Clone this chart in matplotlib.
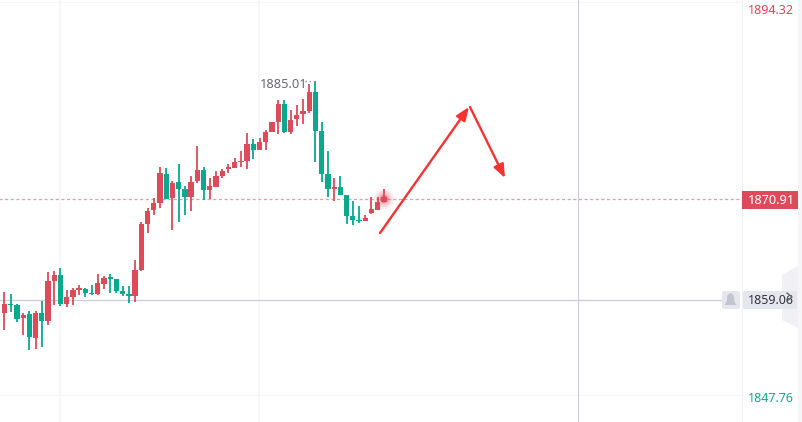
import numpy as np
import matplotlib
matplotlib.use('Agg')
import matplotlib.pyplot as plt
from matplotlib.patches import Polygon, Rectangle, FancyBboxPatch, Circle

plt.rcParams['font.family'] = ['Noto Sans', 'DejaVu Sans']

# candle values
opens = [1857.52, 1858.59, 1858.47, 1856.93, 1857.40, 1854.56, 1857.52, 1856.57, 1861.31, 1862.02,
         1858.59, 1859.42, 1860.25, 1860.36, 1859.89, 1859.77, 1860.96, 1861.79, 1861.55, 1860.13,
         1859.77, 1859.53, 1862.62, 1868.07, 1869.73, 1870.55, 1873.99, 1871.15, 1873.04, 1872.21,
         1871.27, 1873.16, 1874.47, 1872.10, 1872.45, 1873.75, 1874.58, 1874.70, 1875.41, 1875.53,
         1877.55, 1876.84, 1877.78, 1878.97, 1880.15, 1882.29, 1878.97, 1880.51, 1881.10, 1881.46,
         1883.71, 1879.09, 1873.99, 1872.21, 1872.45, 1871.50, 1869.01, 1868.54, 1868.42, 1869.37,
         1869.73, 1870.67]
highs = [1860.01, 1859.77, 1858.59, 1857.52, 1857.76, 1857.76, 1858.94, 1862.38, 1862.50, 1862.85,
         1860.25, 1860.48, 1860.84, 1860.48, 1860.84, 1862.14, 1861.90, 1862.14, 1861.55, 1860.72,
         1860.72, 1863.80, 1868.30, 1869.96, 1871.15, 1874.82, 1874.70, 1873.16, 1875.18, 1872.57,
         1873.75, 1877.31, 1874.82, 1873.52, 1874.35, 1874.58, 1875.18, 1875.89, 1876.72, 1878.85,
         1878.14, 1878.26, 1879.21, 1880.15, 1882.76, 1882.76, 1881.58, 1882.17, 1882.88, 1884.66,
         1885.01, 1880.15, 1876.72, 1873.52, 1873.75, 1871.50, 1870.79, 1870.20, 1869.13, 1871.27,
         1871.27, 1872.21]
lows = [1855.51, 1857.64, 1856.45, 1854.91, 1853.13, 1853.25, 1853.49, 1856.10, 1858.47, 1858.35,
        1858.23, 1858.47, 1859.65, 1859.42, 1859.65, 1859.65, 1860.36, 1859.89, 1859.89, 1859.53,
        1858.70, 1858.82, 1862.50, 1867.00, 1869.13, 1869.96, 1871.03, 1867.36, 1868.30, 1869.13,
        1869.61, 1872.92, 1870.91, 1871.03, 1872.45, 1873.52, 1874.11, 1874.70, 1874.82, 1874.58,
        1875.77, 1876.84, 1876.84, 1878.97, 1878.73, 1878.85, 1878.73, 1879.68, 1879.92, 1881.22,
        1875.41, 1873.04, 1871.27, 1870.79, 1871.50, 1868.07, 1867.95, 1868.18, 1868.42, 1869.25,
        1869.73, 1870.67]
closes = [1858.59, 1858.47, 1856.81, 1857.28, 1854.68, 1857.52, 1856.57, 1861.31, 1862.02, 1858.59,
          1859.42, 1860.25, 1860.48, 1859.89, 1859.77, 1861.07, 1861.67, 1861.55, 1860.13, 1859.77,
          1859.53, 1862.62, 1868.07, 1869.61, 1870.55, 1874.11, 1871.03, 1872.92, 1872.21, 1871.27,
          1873.04, 1874.47, 1872.10, 1872.57, 1873.75, 1874.35, 1874.82, 1875.41, 1875.53, 1877.55,
          1876.84, 1877.78, 1878.97, 1880.15, 1882.29, 1878.97, 1880.39, 1880.98, 1881.46, 1883.71,
          1879.09, 1873.99, 1872.21, 1872.45, 1871.50, 1869.01, 1868.54, 1868.42, 1868.78, 1869.84,
          1870.67, 1871.27]

top_price = 1894.32
last_price = 1870.91
line_price = 1859.06
bottom_price = 1847.76
high_label = '1885.01'

RED = '#dd4b5a'
GREEN = '#0aa88d'

fig = plt.figure(figsize=(8.03, 4.22), dpi=100)

# price axes, one candle is 6.22 px wide
ax = fig.add_axes([0, 0, 1, 1])
ax.set_xlim(-4.5 / 6.22, (803 - 4.5) / 6.22)
ax.set_ylim(1844.60, 1894.61)
ax.axis('off')

x = np.arange(len(opens))
colors = [RED if c >= o else GREEN for o, c in zip(opens, closes)]
bottoms = np.minimum(opens, closes)
heights = np.maximum(np.abs(np.array(closes) - np.array(opens)), 0.1)

# faint grid
for gx in [60, 259]:
    ax.axvline((gx - 4.5) / 6.22, color='#f6f6f8', lw=1.2, zorder=1)
ax.axvline((742 - 4.5) / 6.22, color='#f0f0f4', lw=0.8, zorder=1)
ax.axvline((578 - 4.5) / 6.22, color='#cfccd9', lw=0.8, zorder=2)
for gy in [top_price, bottom_price]:
    ax.plot([-1, (742 - 4.5) / 6.22], [gy, gy], color='#f5f5f8', lw=0.8, zorder=1)

ax.plot([-1, (722 - 4.5) / 6.22], [line_price, line_price], color='#cfccd9', lw=0.9, zorder=2)
ax.plot([-1, (742 - 4.5) / 6.22], [last_price + 0.08, last_price + 0.08], color='#f29aa6', lw=0.9,
        ls=(0, (2.5, 2)), zorder=2)

ax.vlines(x, lows, highs, colors=colors, lw=1.3, zorder=3)
ax.bar(x, heights, bottom=bottoms, width=0.85, color=colors, lw=0, zorder=4)

# overlay in pixel coordinates for the drawing tools and labels
ov = fig.add_axes([0, 0, 1, 1], facecolor='none')
ov.set_xlim(0, 803)
ov.set_ylim(422, 0)
ov.axis('off')

# glow on the last candle
for r, a in [(10, 0.10), (8, 0.12), (6, 0.16), (4, 0.55)]:
    ov.add_patch(Circle((384, 199), r, color=RED, alpha=a, lw=0, zorder=5))

# hand drawn arrows
ov.annotate('', xy=(469, 107), xytext=(380, 233), zorder=6,
            arrowprops=dict(arrowstyle='-|>,head_length=0.8,head_width=0.32', color='#f53333',
                            lw=1.7, shrinkA=0, shrinkB=0))
ov.annotate('', xy=(505, 178), xytext=(470, 107), zorder=6,
            arrowprops=dict(arrowstyle='-|>,head_length=0.8,head_width=0.32', color='#f53333',
                            lw=1.7, shrinkA=0, shrinkB=0))

# high label
ov.text(260, 84, high_label, color='#6a6a76', fontsize=9.3, va='center', ha='left')
ov.plot([305, 316], [81, 81], color='#8f8f9a', lw=1, ls=(0, (1, 2)))

# right hand side
ov.add_patch(Rectangle((798, 0), 5, 422, color='#f6f6f9', lw=0, zorder=1))
ov.add_patch(Polygon([(782, 275), (798, 266), (798, 328), (782, 320)], color='#f1f1f5', lw=0, zorder=2))
ov.add_patch(FancyBboxPatch((722, 291), 18, 18, boxstyle='round,pad=0,rounding_size=2',
                            color='#e6e7ee', lw=0, zorder=3))
ov.add_patch(FancyBboxPatch((743, 291), 54, 18, boxstyle='round,pad=0,rounding_size=2',
                            color='#e6e7ee', lw=0, zorder=3))
ov.add_patch(Polygon([(730.5, 293), (733.5, 295), (734.5, 302), (736.5, 305), (724.5, 305), (726.5, 302), (727.5, 295)],
                     color='#c2c4ce', lw=0, zorder=4))
ov.text(748, 300.5, f'{line_price:.2f}', color='#33333e', fontsize=9, va='center', ha='left', zorder=5)
ov.plot([787, 792, 787], [293, 297, 301], color='#666672', lw=1, zorder=6)

ov.text(748, 11, f'{top_price:.2f}', color='#e0455a', fontsize=9, va='center', ha='left')
ov.add_patch(Rectangle((742, 191), 56, 18, color=RED, lw=0, zorder=3))
ov.text(748, 200.5, f'{last_price:.2f}', color='white', fontsize=9.2, fontweight='medium', va='center', ha='left', zorder=4)
ov.text(748, 398, f'{bottom_price:.2f}', color='#10a88d', fontsize=9, va='center', ha='left')

fig.savefig('out.png', dpi=100)
